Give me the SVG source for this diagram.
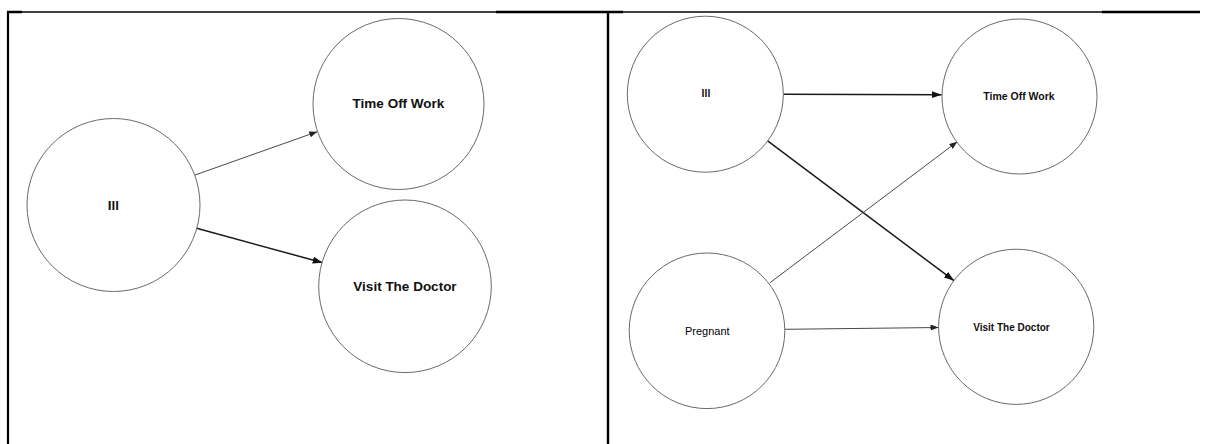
<svg xmlns="http://www.w3.org/2000/svg" width="1207" height="444" viewBox="0 0 1207 444">
<style>
.frame{stroke:#000;fill:none}
.node{fill:#fff;stroke:#6a6a6a;stroke-width:1}
.lbl{font-family:"Liberation Sans",Arial,sans-serif;font-weight:bold;fill:#111;text-anchor:middle}
.big{font-size:13.5px}
.sm{font-size:10.5px}
.reg{font-weight:normal;font-size:11px;fill:#000}
.thin{stroke:#4a4a4a;stroke-width:1;fill:none}
.thick{stroke:#1a1a1a;stroke-width:1.5;fill:none}
</style>
<defs>
<marker id="ahS" markerUnits="userSpaceOnUse" markerWidth="9" markerHeight="7" refX="8" refY="3" orient="auto">
<path d="M0,0 L8,3 L0,6 z" fill="#222"/>
</marker>
<marker id="ahL" markerUnits="userSpaceOnUse" markerWidth="11" markerHeight="8" refX="10" refY="3.5" orient="auto">
<path d="M0,0 L10,3.5 L0,7 z" fill="#111"/>
</marker>
</defs>
<g id="frame">
<line class="frame" x1="8" y1="12" x2="1200" y2="12" stroke-width="1.3"/>
<line class="frame" x1="7" y1="12" x2="22" y2="12" stroke-width="2.5"/>
<line class="frame" x1="496" y1="12" x2="623" y2="12" stroke-width="2.5"/>
<line class="frame" x1="1102" y1="12" x2="1200" y2="12" stroke-width="2.5"/>
<line class="frame" x1="8" y1="11" x2="8" y2="444" stroke-width="2.2"/>
<line class="frame" x1="608" y1="11" x2="608" y2="444" stroke-width="2.4"/>
</g>
<g id="connectors">
<line class="thin" x1="195" y1="175" x2="317.3" y2="131.7" marker-end="url(#ahS)"/>
<line class="thick" x1="196.7" y1="228.3" x2="322.7" y2="262.7" marker-end="url(#ahL)"/>
<line class="thick" x1="783.3" y1="94.3" x2="941.7" y2="94.7" marker-end="url(#ahL)"/>
<line class="thick" x1="767.3" y1="140.7" x2="954" y2="280.7" marker-end="url(#ahL)"/>
<line class="thin" x1="770" y1="282.7" x2="957.3" y2="141.7" marker-end="url(#ahS)"/>
<line class="thin" x1="785" y1="329.3" x2="938.5" y2="327.5" marker-end="url(#ahS)"/>
</g>
<g id="left-ill">
<circle class="node" cx="113.5" cy="205" r="86.5"/>
<text class="lbl big" x="113.5" y="209.8">Ill</text>
</g>
<g id="left-timeoff">
<circle class="node" cx="398.5" cy="104" r="85.5"/>
<text class="lbl big" x="398.5" y="107.5">Time Off Work</text>
</g>
<g id="left-doctor">
<circle class="node" cx="405" cy="286.3" r="86.3"/>
<text class="lbl big" x="405" y="291.3">Visit The Doctor</text>
</g>
<g id="right-ill">
<circle class="node" cx="705.3" cy="94.2" r="78"/>
<text class="lbl sm" x="706" y="97.3">Ill</text>
</g>
<g id="right-pregnant">
<circle class="node" cx="707" cy="330.8" r="77.8"/>
<text class="lbl reg" x="707.3" y="334.8">Pregnant</text>
</g>
<g id="right-timeoff">
<circle class="node" cx="1019.5" cy="96.5" r="77.5"/>
<text class="lbl sm" x="1019" y="100">Time Off Work</text>
</g>
<g id="right-doctor">
<circle class="node" cx="1016.2" cy="326.8" r="77.6"/>
<text class="lbl sm" x="1011.5" y="331" style="font-size:10px">Visit The Doctor</text>
</g>
</svg>
